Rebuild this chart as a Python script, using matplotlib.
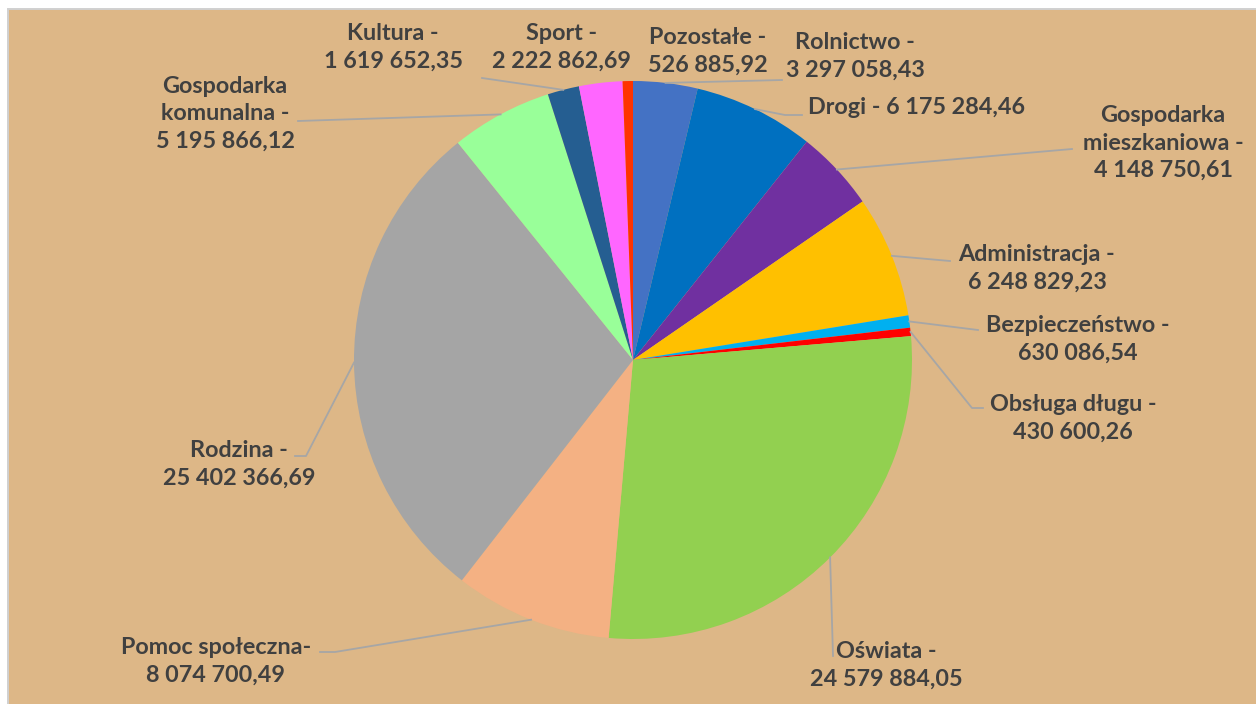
import matplotlib
matplotlib.use("Agg")
import matplotlib.pyplot as plt
from matplotlib.patches import Rectangle
import numpy as np

# ---- data ----
categories = ["Rolnictwo", "Drogi", "Gospodarka mieszkaniowa", "Administracja",
              "Bezpieczeństwo", "Obsługa długu", "Oświata", "Pomoc społeczna",
              "Rodzina", "Gospodarka komunalna", "Kultura", "Sport", "Pozostałe"]
values = [3297058.43, 6175284.46, 4148750.61, 6248829.23, 630086.54, 430600.26,
          24579884.05, 8074700.49, 25402366.69, 5195866.12, 1619652.35,
          2222862.69, 526885.92]
label_prefixes = ["Rolnictwo -\n", "Drogi - ", "Gospodarka\nmieszkaniowa -\n",
                  "Administracja -\n", "Bezpieczeństwo -\n", "Obsługa długu -\n",
                  "Oświata -\n", "Pomoc społeczna-\n", "Rodzina -\n",
                  "Gospodarka\nkomunalna -\n", "Kultura -\n", "Sport -\n",
                  "Pozostałe -\n"]
colors = ["#4472C4", "#0070C0", "#7030A0", "#FFC000", "#00B0F0", "#FF0000",
          "#92D050", "#F4B183", "#A5A5A5", "#99FF99", "#255E91", "#FF66FF",
          "#FF3300"]

# ---- layout (pixel coordinates, y measured from top) ----
W, H = 1256, 704
label_pos = [(855, 56), (916, 107), (1163, 143), (1037, 268), (1078, 339),
             (1073, 418), (886, 665), (216, 661), (239, 464), (225, 114),
             (393, 47), (562, 47), (708, 51)]
# leader line waypoints after the pie anchor (None = no leader)
leaders = [[(782, 80)], [(785, 115), (802, 115)], [(1072, 149)], [(950, 261)],
           [(978, 330)], [(972, 408), (983, 408)], [(833, 656)],
           [(335, 652), (320, 652)], [(306, 456), (295, 456)], [(298, 121)],
           [(482, 78)], None, None]

def fmt(v):
    s = f"{v:,.2f}"
    return s.replace(",", " ").replace(".", ",")

fig = plt.figure(figsize=(W / 100, H / 100), dpi=100, facecolor="white")
ax = fig.add_axes([0, 0, 1, 1])
ax.set_facecolor("none")
bg = Rectangle((8 / W, -0.05), 1.1, (H - 9) / H + 0.05,
               transform=fig.transFigure, facecolor="#DDB787",
               edgecolor="#D0D0D0", linewidth=1.4, zorder=-10)
ax.add_artist(bg)

cx, cy, r = 633, H - 360, 279
wedges, _ = ax.pie(values, colors=colors, startangle=90, counterclock=False,
                   center=(cx, cy), radius=r,
                   wedgeprops=dict(linewidth=0))
ax.set_xlim(0, W)
ax.set_ylim(0, H)
ax.set_aspect("equal")
ax.axis("off")

for i, w in enumerate(wedges):
    mid = np.deg2rad((w.theta1 + w.theta2) / 2)
    px, py = cx + r * np.cos(mid), cy + r * np.sin(mid)
    if leaders[i] is not None:
        xs = [px] + [p[0] for p in leaders[i]]
        ys = [py] + [H - p[1] for p in leaders[i]]
        ax.plot(xs, ys, color="#A6A6A6", linewidth=1.3, zorder=3)
    lx, ly = label_pos[i]
    ax.text(lx, H - ly, label_prefixes[i] + fmt(values[i]), ha="center",
            va="center", multialignment="center", fontsize=16.8,
            fontweight="bold", family="Lato", color="#404040",
            linespacing=1.38, zorder=4)

fig.savefig("out.png", dpi=100, facecolor="white")
